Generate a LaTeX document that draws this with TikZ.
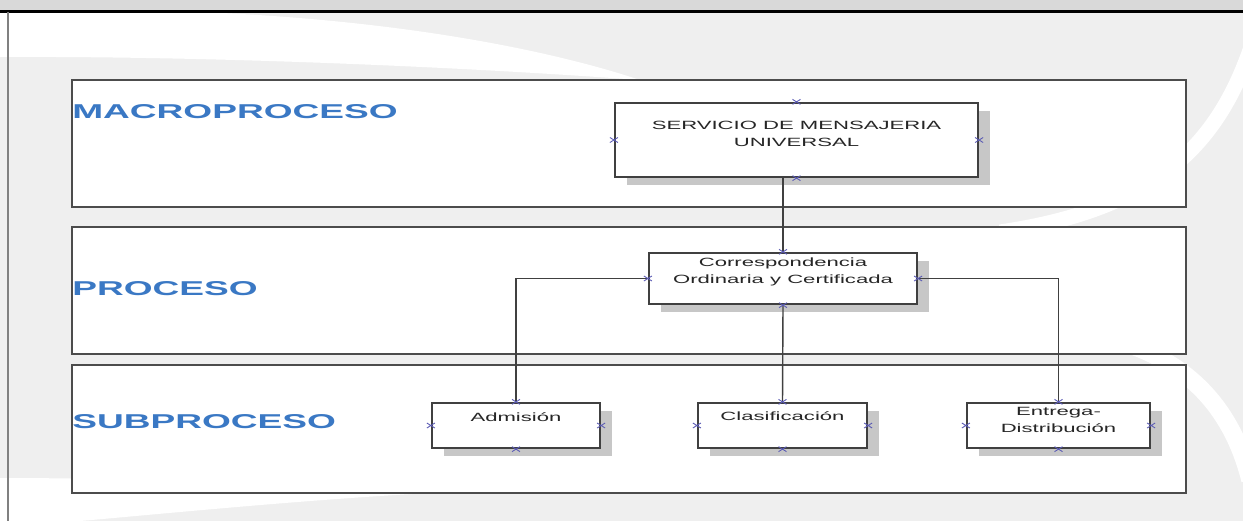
\documentclass[tikz,border=0pt]{standalone}
\usepackage{fontspec}
\setmainfont{Liberation Sans}
\newfontfamily\widefont[FakeStretch=1.85]{Liberation Sans}
\usetikzlibrary{shadows}

\definecolor{laneblue}{RGB}{58,120,196}
\definecolor{bggray}{RGB}{239,239,239}
\definecolor{topgray}{RGB}{217,217,217}
\definecolor{xblue}{RGB}{90,90,180}

\tikzset{
  lane/.style={draw=black!70, fill=white, line width=0.6pt},
  lanelabel/.style={anchor=west, inner sep=0pt, text=laneblue,
    font=\widefont\bfseries\fontsize{11.4}{13}\selectfont},
  rbox/.style={draw=black!75, line width=1.3pt, fill=white,
    drop shadow={shadow xshift=0.24cm, shadow yshift=-0.16cm, fill=black!22, opacity=1}},
  btext/.style={anchor=north, inner sep=0pt, align=center, text=black!85,
    font=\widefont\fontsize{6.8}{9.7}\selectfont},
  link/.style={draw=black!75, line width=0.8pt},
  cpt/.style={draw=xblue, line width=0.5pt},
}

% small crosses on the four sides of a box
\newcommand{\conpts}[1]{%
  \foreach \a in {north,south,east,west}{
    \draw[cpt] ([shift={(-4,-2.5)}]#1.\a) -- ([shift={(4,2.5)}]#1.\a)
               ([shift={(-4,2.5)}]#1.\a) -- ([shift={(4,-2.5)}]#1.\a);
  }}

\begin{document}
\begin{tikzpicture}[x=0.02cm, y=-0.02cm]
    \useasboundingbox (0,0) rectangle (1243,521);

    % background
    \fill[bggray] (0,0) rectangle (1243,521);
    \fill[topgray] (0,0) rectangle (1243,10);
    \fill[white] (0,12) -- (200,12) .. controls (400,20) and (550,50) .. (640,80)
        .. controls (450,66) and (200,56) .. (0,57) -- cycle;
    \fill[white] (0,478) .. controls (150,478) and (300,485) .. (430,493)
        .. controls (300,500) and (150,515) .. (80,521) -- (0,521) -- cycle;
    \draw[white, line width=0.3cm] (1250,50) .. controls (1215,150) and (1150,210) .. (1000,232);
    \draw[white, line width=0.35cm] (1130,345) .. controls (1200,370) and (1235,420) .. (1250,480);
    \draw[black, line width=0.06cm] (0,11) -- (1243,11);
    \draw[black!50, line width=0.04cm] (8,12) -- (8,521);

    % lanes
    \draw[lane] (72,80) rectangle (1186,207);
    \draw[lane] (72,227) rectangle (1186,354);
    \draw[lane] (72,365) rectangle (1186,493);

    \node[lanelabel] (macro) at (72,112) {MACROPROCESO};
    \node[lanelabel] (proc) at (72,289) {PROCESO};
    \node[lanelabel] (subp) at (72,422) {SUBPROCESO};

    % boxes
    \node[rbox, minimum width=7.26cm, minimum height=1.48cm] (serv) at (796.5,140) {};
    \node[rbox, minimum width=5.36cm, minimum height=1.02cm] (corr) at (783,278.5) {};
    \node[rbox, minimum width=3.36cm, minimum height=0.9cm] (adm) at (516,425.5) {};
    \node[rbox, minimum width=3.38cm, minimum height=0.9cm] (clas) at (782.5,425.5) {};
    \node[rbox, minimum width=3.66cm, minimum height=0.9cm] (ent) at (1058.5,425.5) {};

    \node[btext] (servtxt) at ([yshift=-0.37cm]serv.north) {SERVICIO DE MENSAJERIA\\UNIVERSAL};
    \node[btext] (corrtxt) at ([yshift=-0.12cm]corr.north) {Correspondencia\\Ordinaria y Certificada};
    \node[btext] (admtxt) at ([yshift=-0.2cm]adm.north) {Admisión};
    \node[btext] (clastxt) at ([yshift=-0.18cm]clas.north) {Clasificación};
    \node[btext] (enttxt) at ([yshift=-0.1cm]ent.north) {Entrega-\\Distribución};

    % connectors
    \draw[link] (serv.south -| corr.north) -- (corr.north);
    \draw[link] (corr.west) -| (adm.north);
    \draw[link] (corr.south) -- (clas.north);
    \draw[link] (corr.east) -| (ent.north);

    \conpts{serv}
    \conpts{corr}
    \conpts{adm}
    \conpts{clas}
    \conpts{ent}
\end{tikzpicture}
\end{document}
